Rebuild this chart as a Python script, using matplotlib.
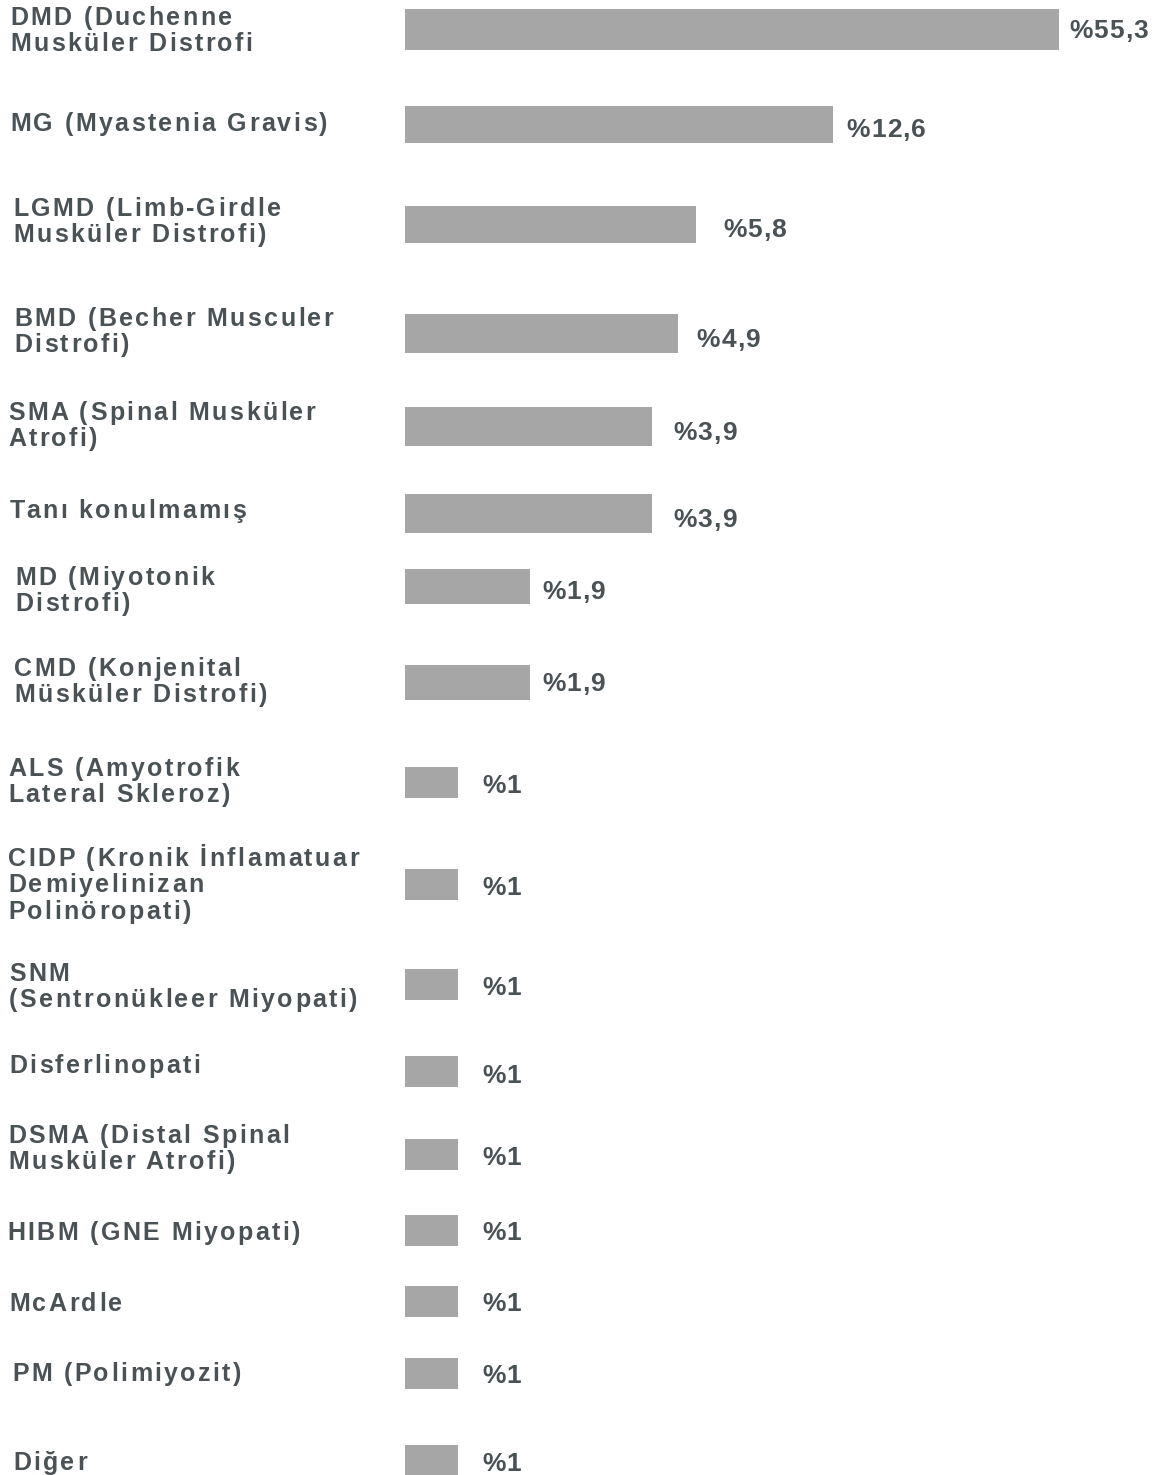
import matplotlib
matplotlib.use('Agg')
import matplotlib.pyplot as plt
from matplotlib.font_manager import FontProperties, findfont
from matplotlib.transforms import IdentityTransform
from matplotlib.ft2font import FT2Font
try:
    from matplotlib.ft2font import LoadFlags, Kerning
    NOHINT = LoadFlags.NO_HINTING
    KDEF = Kerning.DEFAULT
except ImportError:
    from matplotlib.ft2font import LOAD_NO_HINTING as NOHINT, KERNING_DEFAULT as KDEF

# ---------------- data ----------------
categories = [
    "DMD (Duchenne\nMusküler Distrofi",
    "MG (Myastenia Gravis)",
    "LGMD (Limb-Girdle\nMusküler Distrofi)",
    "BMD (Becher Musculer\nDistrofi)",
    "SMA (Spinal Musküler\nAtrofi)",
    "Tanı konulmamış",
    "MD (Miyotonik\nDistrofi)",
    "CMD (Konjenital\nMüsküler Distrofi)",
    "ALS (Amyotrofik\nLateral Skleroz)",
    "CIDP (Kronik İnflamatuar\nDemiyelinizan\nPolinöropati)",
    "SNM\n(Sentronükleer Miyopati)",
    "Disferlinopati",
    "DSMA (Distal Spinal\nMusküler Atrofi)",
    "HIBM (GNE Miyopati)",
    "McArdle",
    "PM (Polimiyozit)",
    "Diğer",
]
values = [55.3, 12.6, 5.8, 4.9, 3.9, 3.9, 1.9, 1.9, 1, 1, 1, 1, 1, 1, 1, 1, 1]
# drawn bar lengths as shown in the picture (relative, longest = 100)
bar_lengths = [100, 65.4, 44.5, 41.7, 37.8, 37.8, 19.1, 19.1,
               8.1, 8.1, 8.1, 8.1, 8.1, 8.1, 8.1, 8.1, 8.1]


def fmt(v):
    if float(v).is_integer():
        return "%" + str(int(v))
    return "%" + f"{v:.1f}".replace(".", ",")


value_labels = [fmt(v) for v in values]

# ---------------- layout (pixels) ----------------
W, H, DPI = 1174, 1475, 100
BAR_LEFT = 405
PX_PER_UNIT = 6.54
bar_center_px = [29.5, 124.5, 224.5, 333.5, 426.5, 513.5, 586.5, 682.5, 782.5,
                 884.5, 984.5, 1071.5, 1154.5, 1230.5, 1301.5, 1373.5, 1460.5]
bar_height_px = [41, 37, 37, 39, 39, 39, 35, 35, 31, 31, 31, 31, 31, 31, 31, 31, 31]
val_gap_px = [10, 14, 27, 19, 21, 21, 12, 12, 24, 24, 24, 24, 24, 24, 24, 24, 24]
val_center_px = [28.5, 128, 228, 337.5, 431, 517.5, 589.5, 682, 784, 886, 986,
                 1074, 1156, 1231, 1302, 1374, 1462]
label_x_px = [10, 10, 13, 14, 8, 10, 15, 14, 8, 8, 9, 9, 8, 7, 9, 12, 13]
label_top_px = [7, 113, 198, 308, 402, 500, 567, 658, 758, 848, 963, 1055,
                1125, 1222, 1293, 1363, 1452]

BAR_COLOR = "#a6a6a6"
TEXT_COLOR = "#4a5256"
LABEL_PT = 18.0
LABEL_SPACING = 2.4
LINE_STEP = 26.5
VALUE_PT = 19.0
VALUE_SPACING = 1.0

fig = plt.figure(figsize=(W / DPI, H / DPI), dpi=DPI)
fig.patch.set_facecolor("white")

ax = fig.add_axes([BAR_LEFT / W, 0, (W - BAR_LEFT) / W, 1])
ax.set_xlim(0, (W - BAR_LEFT) / PX_PER_UNIT)
ax.set_ylim(H, 0)
ax.barh(bar_center_px, bar_lengths, height=bar_height_px, color=BAR_COLOR, left=0)
ax.axis("off")

prop_label = FontProperties(family="Liberation Sans", weight="bold", size=LABEL_PT)
prop_value = FontProperties(family="Liberation Sans", weight="bold", size=VALUE_PT)
font_path = findfont(prop_label)


def draw_spaced(x, y_base, s, prop, size_pt, spacing, color):
    """x, y_base in display pixels measured from the top-left."""
    font = FT2Font(font_path)
    font.set_size(size_pt, DPI)
    pen = 0.0
    prev = None
    for ch in s:
        idx = font.get_char_index(ord(ch))
        if prev is not None:
            pen += font.get_kerning(prev, idx, KDEF) / 64.0
        if ch != " ":
            fig.text(x + pen, H - y_base, ch, transform=IdentityTransform(),
                     fontproperties=prop, color=color, ha="left", va="baseline")
        g = font.load_char(ord(ch), flags=NOHINT)
        pen += g.linearHoriAdvance / 65536.0 + spacing
        prev = idx


# category labels
cap_h = 0.716 * LABEL_PT * DPI / 72
for lab, x, top in zip(categories, label_x_px, label_top_px):
    for i, line in enumerate(lab.split("\n")):
        draw_spaced(x, top + cap_h + i * LINE_STEP, line, prop_label, LABEL_PT,
                    LABEL_SPACING, TEXT_COLOR)

# value labels
dig_h = 0.716 * VALUE_PT * DPI / 72
fig.canvas.draw()
for lab, length, yc, gap in zip(value_labels, bar_lengths, val_center_px, val_gap_px):
    xd, yd = ax.transData.transform((length, yc))
    y_top = H - yd
    draw_spaced(xd + gap, y_top + dig_h / 2, lab, prop_value, VALUE_PT,
                VALUE_SPACING, TEXT_COLOR)

fig.savefig("out.png", dpi=DPI, facecolor="white")
